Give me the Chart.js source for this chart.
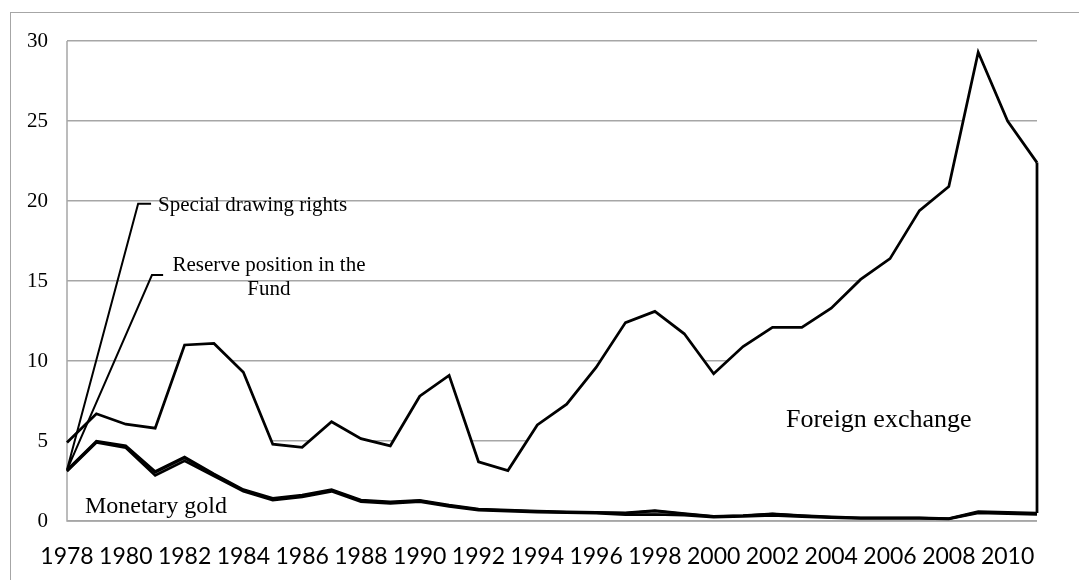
<!DOCTYPE html>
<html>
<head>
<meta charset="utf-8">
<script src="https://cdn.jsdelivr.net/npm/chart.js@4.4.1/dist/chart.umd.min.js"></script>
<style>
  html, body { margin: 0; padding: 0; background: #ffffff; }
  #wrap { position: relative; width: 1079px; height: 580px; overflow: hidden; }
  #frame { position: absolute; left: 10px; top: 12px; width: 1200px; height: 700px; border: 1px solid #a6a6a6; box-sizing: border-box; }
  #box { position: absolute; left: 0; top: 0; width: 1079px; height: 580px; }
</style>
</head>
<body>
<div id="wrap">
  <div id="frame"></div>
  <div id="box"><canvas id="c"></canvas></div>
</div>
<script>
const years = ['1978','1979','1980','1981','1982','1983','1984','1985','1986','1987','1988','1989','1990','1991','1992','1993','1994','1995','1996','1997','1998','1999','2000','2001','2002','2003','2004','2005','2006','2007','2008','2009','2010','2011'];
const monetaryGold = [3.1,4.9,4.57,2.85,3.75,2.8,1.85,1.3,1.5,1.85,1.21,1.1,1.2,0.9,0.67,0.61,0.55,0.51,0.48,0.39,0.4,0.36,0.24,0.28,0.35,0.27,0.2,0.16,0.15,0.15,0.12,0.5,0.45,0.4];
const reservePosition = [0.05,0.05,0.08,0.2,0.2,0.1,0.07,0.07,0.07,0.07,0.06,0.06,0.06,0.06,0.05,0.04,0.04,0.04,0.04,0.1,0.22,0.08,0.04,0.05,0.08,0.06,0.04,0.03,0.03,0.03,0.02,0.05,0.05,0.05];
const specialDrawingRights = [0.05,0.05,0.05,0.05,0.05,0.05,0.05,0.05,0.05,0.05,0.05,0.04,0.04,0.04,0.03,0.03,0.03,0.03,0.03,0.03,0.03,0.03,0.02,0.02,0.02,0.02,0.02,0.02,0.02,0.02,0.02,0.05,0.05,0.05];
const foreignExchange = [1.7,1.7,1.35,2.7,7.0,8.15,7.33,3.38,2.98,4.23,3.83,3.5,6.5,8.1,2.95,2.47,5.38,6.72,9.05,11.88,12.45,11.23,8.9,10.55,11.65,11.75,13.04,14.89,16.2,19.2,20.74,28.7,24.45,21.9];
const yMin = 0, yMax = 30, yStep = 5;

const GRID = '#a6a6a6';
const SERIF = '"Liberation Serif", "Times New Roman", serif';

const overlay = {
  id: 'overlay',
  beforeDatasetsDraw(chart) {
    const ctx = chart.ctx, a = chart.chartArea;
    ctx.save();
    ctx.strokeStyle = GRID;
    ctx.lineWidth = 1.5;
    ctx.beginPath();
    ctx.moveTo(a.left, a.top);
    ctx.lineTo(a.left, a.bottom);
    ctx.lineTo(a.right, a.bottom);
    ctx.stroke();
    ctx.restore();
  },
  afterDatasetsDraw(chart) {
    const ctx = chart.ctx;
    const xs = chart.scales.x, ys = chart.scales.y;
    const top = chart.getDatasetMeta(3).data;
    const under = chart.getDatasetMeta(2).data;
    const last = top.length - 1;
    ctx.save();
    ctx.strokeStyle = '#000';
    ctx.lineWidth = 2.75;
    ctx.beginPath();
    ctx.moveTo(top[last].x, top[last].y);
    ctx.lineTo(under[last].x, under[last].y);
    ctx.stroke();
    const ax = under[0].x, ay = under[0].y;
    ctx.lineWidth = 2;
    ctx.beginPath();
    ctx.moveTo(ax, ay);
    ctx.lineTo(xs.getPixelForValue(2.42), ys.getPixelForValue(19.83));
    ctx.lineTo(xs.getPixelForValue(2.86), ys.getPixelForValue(19.83));
    ctx.moveTo(ax, ay);
    ctx.lineTo(xs.getPixelForValue(2.89), ys.getPixelForValue(15.37));
    ctx.lineTo(xs.getPixelForValue(3.27), ys.getPixelForValue(15.37));
    ctx.stroke();
    ctx.fillStyle = '#000';
    ctx.textBaseline = 'middle';
    ctx.font = '21px ' + SERIF;
    ctx.textAlign = 'left';
    ctx.fillText('Special drawing rights', xs.getPixelForValue(3.10), ys.getPixelForValue(19.7));
    ctx.textAlign = 'center';
    ctx.fillText('Reserve position in the', xs.getPixelForValue(6.87), ys.getPixelForValue(16.0));
    ctx.fillText('Fund', xs.getPixelForValue(6.87), ys.getPixelForValue(14.44));
    ctx.textAlign = 'left';
    ctx.font = '24px ' + SERIF;
    ctx.fillText('Monetary gold', xs.getPixelForValue(0.61), ys.getPixelForValue(0.92));
    ctx.font = '26px ' + SERIF;
    ctx.fillText('Foreign exchange', xs.getPixelForValue(24.46), ys.getPixelForValue(6.3));
    ctx.restore();
  }
};

new Chart(document.getElementById('c'), {
  type: 'line',
  data: {
    labels: years,
    datasets: [
      { label: 'Monetary gold', data: monetaryGold, borderColor: '#000', borderWidth: 2.5, fill: false, backgroundColor: '#ffffff' },
      { label: 'Reserve position in the Fund', data: reservePosition, borderColor: '#000', borderWidth: 2.5, fill: '-1', backgroundColor: '#8c8c8c' },
      { label: 'Special drawing rights', data: specialDrawingRights, borderColor: '#000', borderWidth: 2.5, fill: '-1', backgroundColor: '#a6a6a6' },
      { label: 'Foreign exchange', data: foreignExchange, borderColor: '#000', borderWidth: 2.75, fill: '-1', backgroundColor: '#ffffff' }
    ]
  },
  options: {
    responsive: true,
    maintainAspectRatio: false,
    animation: false,
    events: [],
    layout: { padding: { left: 0, top: 41, right: 42, bottom: 0 } },
    elements: { point: { radius: 0 }, line: { tension: 0, borderJoinStyle: 'miter' } },
    plugins: {
      legend: { display: false },
      tooltip: { enabled: false },
      filler: { drawTime: 'beforeDatasetsDraw' }
    },
    scales: {
      x: {
        offset: false,
        grid: { display: false, drawTicks: false },
        border: { display: false },
        afterFit(s) { s.height = 59; },
        ticks: {
          autoSkip: false,
          maxRotation: 0,
          padding: 22,
          color: '#000',
          font: { family: 'Lato, "Open Sans", sans-serif', size: 23 },
          callback(v, i) { return i % 2 === 0 ? years[i] : ''; }
        }
      },
      y: {
        stacked: true,
        min: yMin,
        max: yMax,
        afterFit(s) { s.width = 67; },
        grid: { color: GRID, lineWidth: 1.5, drawTicks: false },
        border: { display: false },
        ticks: {
          stepSize: yStep,
          padding: 19,
          color: '#000',
          font: { family: SERIF, size: 21 }
        }
      }
    }
  },
  plugins: [overlay]
});
</script>
</body>
</html>
